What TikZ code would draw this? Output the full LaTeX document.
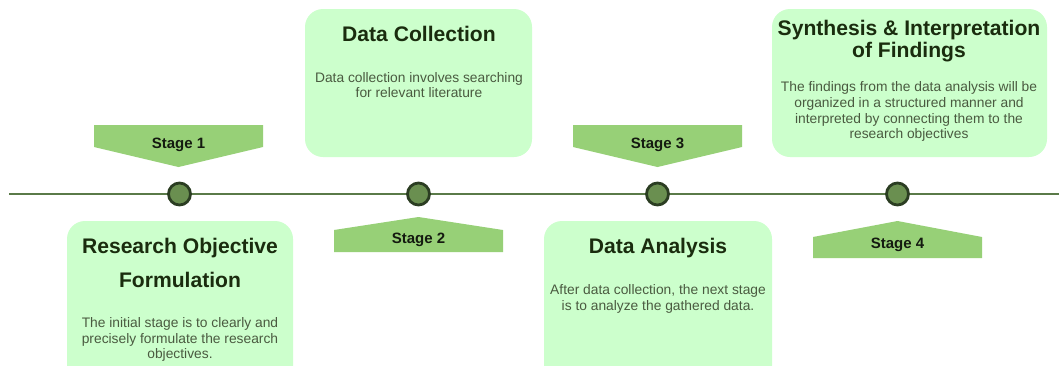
\documentclass[tikz,border=0pt]{standalone}
\usepackage{fontspec}
\setmainfont{Liberation Sans}
\definecolor{boxfill}{HTML}{CCFFCC}
\definecolor{stagefill}{HTML}{97D077}
\definecolor{linecol}{HTML}{5A7A48}
\definecolor{dotfill}{HTML}{6A8F50}
\definecolor{dotdraw}{HTML}{2B3D22}
\definecolor{titlecol}{HTML}{1A2C0E}
\definecolor{bodycol}{HTML}{4A5A40}
\definecolor{stagecol}{HTML}{141A10}
\begin{document}
\begin{tikzpicture}[x=1pt,y=-1pt,
  timeline/.style={draw=linecol, line width=2.2pt},
  dot/.style={circle, fill=dotfill, draw=dotdraw, line width=2.8pt, minimum size=22pt, inner sep=0pt},
  box/.style={fill=boxfill, rounded corners=18pt, inner sep=0pt},
  stageshape/.style={fill=stagefill, draw=none},
  stagelbl/.style={font=\fontsize{15}{17}\selectfont\bfseries, text=stagecol, inner sep=0pt, anchor=base},
  titletxt/.style={font=\fontsize{21.1}{24}\selectfont\bfseries, text=titlecol, inner sep=0pt, anchor=base},
  bodytxt/.style={font=\fontsize{13.8}{16}\selectfont, text=bodycol, inner sep=0pt, anchor=base}
]
\useasboundingbox (0,0) rectangle (1059,365);
\clip (0,0) rectangle (1059,365);
\fill[white] (0,0) rectangle (1059,365);

% boxes
\node[box, minimum width=226pt, minimum height=164pt] (b1) at (180,303) {};
\node[box, minimum width=227pt, minimum height=148pt] (b2) at (418.5,83) {};
\node[box, minimum width=228pt, minimum height=164pt] (b3) at (658,303) {};
\node[box, minimum width=275pt, minimum height=148pt] (b4) at (909.5,83) {};

% timeline
\coordinate (tl) at (9,194);
\coordinate (tr) at (1059,194);
\draw[timeline] (tl) -- (tr);
\node[dot] (d1) at (179.5,194) {};
\node[dot] (d2) at (418.5,194) {};
\node[dot] (d3) at (657.5,194) {};
\node[dot] (d4) at (897.5,194) {};

% stage markers
\fill[stageshape] (94,125) -- (263,125) -- (263,147) -- (178.5,167) -- (94,147) -- cycle;
\fill[stageshape] (334,252) -- (334,230) -- (418.5,217) -- (503,230) -- (503,252) -- cycle;
\fill[stageshape] (573,125) -- (742,125) -- (742,147) -- (657.5,167) -- (573,147) -- cycle;
\fill[stageshape] (813,258) -- (813,237) -- (897.5,221) -- (982,237) -- (982,258) -- cycle;
\node[stagelbl] (s1) at (178.5,148) {Stage 1};
\node[stagelbl] (s2) at (418.5,243) {Stage 2};
\node[stagelbl] (s3) at (657.5,148) {Stage 3};
\node[stagelbl] (s4) at (897.5,248) {Stage 4};

% box 1
\node[titletxt] (t1a) at (180,253) {Research Objective};
\node[titletxt] (t1b) at (180,287) {Formulation};
\node[bodytxt] (p1a) at (180,327) {The initial stage is to clearly and};
\node[bodytxt] (p1b) at (180,343) {precisely formulate the research};
\node[bodytxt] (p1c) at (180,358) {objectives.};

% box 2
\node[titletxt] (t2a) at (419,41) {Data Collection};
\node[bodytxt] (p2a) at (419,82) {Data collection involves searching};
\node[bodytxt] (p2b) at (419,97) {for relevant literature};

% box 3
\node[titletxt] (t3a) at (658,253) {Data Analysis};
\node[bodytxt] (p3a) at (658,294) {After data collection, the next stage};
\node[bodytxt] (p3b) at (658,310) {is to analyze the gathered data.};

% box 4
\node[titletxt] (t4a) at (909,35) {Synthesis \& Interpretation};
\node[titletxt] (t4b) at (909,57) {of Findings};
\node[bodytxt] (p4a) at (909,91) {The findings from the data analysis will be};
\node[bodytxt] (p4b) at (909,107) {organized in a structured manner and};
\node[bodytxt] (p4c) at (909,123) {interpreted by connecting them to the};
\node[bodytxt] (p4d) at (909,138) {research objectives};
\end{tikzpicture}
\end{document}
